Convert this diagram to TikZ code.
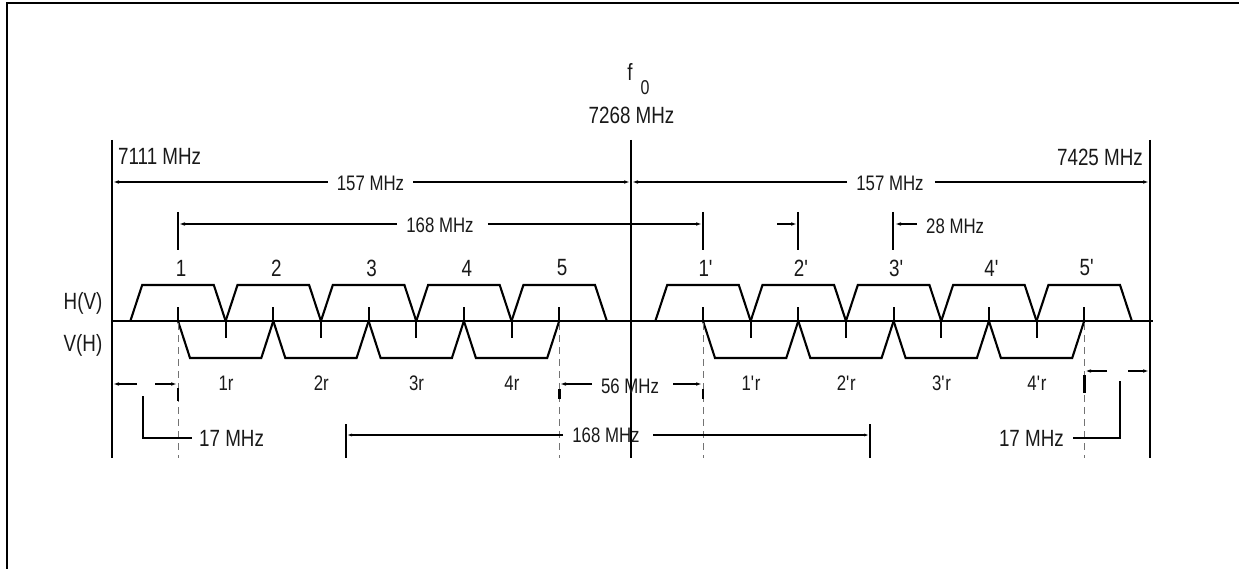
\documentclass[tikz,border=0pt]{standalone}
\usepackage{fontspec}
\setmainfont{Liberation Sans}[FakeStretch=0.8]
\usetikzlibrary{arrows.meta}
\begin{document}
\begin{tikzpicture}[x=1pt,y=-1pt,
  lbl/.style={inner sep=0pt,font=\fontsize{23.5}{25}\selectfont,text=black!90},
  dlbl/.style={inner sep=0pt,font=\fontsize{21}{23}\selectfont,text=black!90},
  dim/.style={line width=2.8pt,-{Latex[length=7pt,width=3.5pt]}},
  thin dim/.style={line width=2.2pt,-{Latex[length=6pt,width=3pt]}},
  bar/.style={line width=2.5pt},
  trap/.style={line width=2.1pt,line join=miter},
  guide/.style={line width=0.9pt,black!55,dash pattern=on 7pt off 5pt},
  thickmark/.style={line width=2.8pt},
  ]
\useasboundingbox (0,0) rectangle (1239,569);
% frame (only top and left visible)
\coordinate (FL) at (7,569); \coordinate (FC) at (7,3); \coordinate (FR) at (1239,3);
\draw[line width=2pt] (FL) -- (FC) -- (FR);

% main verticals
\coordinate (Ltop) at (112,140); \coordinate (Lbot) at (112,458);
\coordinate (Ctop) at (631,140); \coordinate (Cbot) at (631,458);
\coordinate (Rtop) at (1150,140); \coordinate (Rbot) at (1150,458);
\draw[bar] (Ltop) -- (Lbot);
\draw[bar] (Ctop) -- (Cbot);
\draw[bar] (Rtop) -- (Rbot);

% axis
\coordinate (A0) at (112,321); \coordinate (A1) at (1153,321);
\draw[bar] (A0) -- (A1);

% top labels
\node[lbl] (f) at (630,72) {f};
\node[lbl,font=\fontsize{20}{21}\selectfont] (f0) at (645,88) {0};
\node[lbl] (f0freq) at (631.5,115) {7268 MHz};
\node[lbl,anchor=west] (lowf) at (118,156) {7111 MHz};
\node[lbl,anchor=east] (highf) at (1143,157) {7425 MHz};

% 157 MHz dimensions
\node[dlbl] (d157l) at (370.5,183) {157 MHz};
\node[dlbl] (d157r) at (890,183) {157 MHz};
\coordinate (l157a) at (112,182); \coordinate (l157b) at (631,182); \coordinate (l157c) at (1150,182);
\draw[dim] (d157l.west) ++(-9,-1) -- (l157a);
\draw[dim] (d157l.east) ++(9,-1) -- (l157b);
\draw[dim] (d157r.west) ++(-9,-1) -- (l157b);
\draw[dim] (d157r.east) ++(11,-1) -- (l157c);

% 168 MHz top
\coordinate (t1a) at (178,212); \coordinate (t1b) at (178,250);
\coordinate (t2a) at (703,212); \coordinate (t2b) at (703,250);
\draw[bar] (t1a) -- (t1b);
\draw[bar] (t2a) -- (t2b);
\node[dlbl] (d168t) at (440,225) {168 MHz};
\coordinate (h168a) at (178,224); \coordinate (h168b) at (703,224);
\draw[dim] (d168t.west) ++(-9,-1) -- (h168a);
\draw[dim] (d168t.east) ++(14,-1) -- (h168b);

% 28 MHz
\coordinate (t3a) at (798,212); \coordinate (t3b) at (798,250);
\coordinate (t4a) at (893,212); \coordinate (t4b) at (893,250);
\draw[bar] (t3a) -- (t3b);
\draw[bar] (t4a) -- (t4b);
\coordinate (s28a) at (777,224); \coordinate (s28b) at (798,224);
\coordinate (s28c) at (917,224); \coordinate (s28d) at (894,224);
\draw[dim] (s28a) -- (s28b);
\draw[dim] (s28c) -- (s28d);
\node[dlbl,anchor=west] (d28) at (926,226) {28 MHz};

% H(V) / V(H)
\node[lbl] (hv) at (83,303) {H(V)};
\node[lbl] (vh) at (83,345) {V(H)};

% channels, left half and right half
\foreach \base/\pr in {178/0,703/1}{
  \foreach \i [count=\n] in {0,...,4}{
    \pgfmathsetmacro\c{\base+95.3*\i}
    \draw[trap] ({\c-47.65},321) -- ({\c-35.8},285) -- ({\c+35.8},285) -- ({\c+47.65},321);
    \draw[trap] (\c,307) -- (\c,322);
    \ifnum\pr=0
      \node[lbl] (ch\pr\n) at ({\c+3},268) {\n};
    \else
      \node[lbl] (ch\pr\n) at ({\c+3},268) {\n\textquotesingle};
    \fi
  }
  \foreach \i [count=\n] in {0,...,3}{
    \pgfmathsetmacro\c{\base+95.3*\i}
    \draw[trap] (\c,321) -- ({\c+12},358) -- ({\c+95.3-12},358) -- ({\c+95.3},321);
    \draw[trap] ({\c+47.65},321) -- ({\c+47.65},338);
    \ifnum\pr=0
      \node[dlbl] (chr\pr\n) at ({\c+48},383) {\n r};
    \else
      \node[dlbl] (chr\pr\n) at ({\c+48},383) {\n\textquotesingle r};
    \fi
  }
}

% dashed guides
\foreach \x/\nm in {178/ga,559.2/gb,703/gc,1084.2/gd}{
  \coordinate (\nm1) at (\x,323); \coordinate (\nm2) at (\x,458);
  \draw[guide] (\nm1) -- (\nm2);
}

% left 17 MHz
\coordinate (la) at (137,384); \coordinate (lb) at (112,384);
\coordinate (lc) at (155,384); \coordinate (ld) at (178,384);
\draw[dim] (la) -- (lb);
\draw[dim] (lc) -- (ld);
\draw[thickmark] (178,388) -- (178,401);
\coordinate (le1) at (143,396); \coordinate (le2) at (143,438); \coordinate (le3) at (192,438);
\draw[line width=2.2pt] (le1) -- (le2) -- (le3);
\node[lbl,anchor=west] (d17l) at (199,438) {17 MHz};

% 56 MHz
\coordinate (m1) at (592,384); \coordinate (m2) at (559,384);
\coordinate (m3) at (673,384); \coordinate (m4) at (703,384);
\draw[dim] (m1) -- (m2);
\draw[dim] (m3) -- (m4);
\draw[thickmark] (559.2,389) -- (559.2,399);
\draw[thickmark] (703,389) -- (703,399);
\node[dlbl] (d56) at (630,386) {56 MHz};

% bottom 168 MHz
\coordinate (b1a) at (346,424); \coordinate (b1b) at (346,458);
\coordinate (b2a) at (870,424); \coordinate (b2b) at (870,458);
\draw[bar] (b1a) -- (b1b);
\draw[bar] (b2a) -- (b2b);
\node[dlbl] (d168b) at (606,435) {168 MHz};
\coordinate (bl) at (346,435); \coordinate (br) at (870,435);
\draw[thin dim] (563,435) -- (bl);
\draw[thin dim] (653,435) -- (br);

% right 17 MHz
\coordinate (ra) at (1107,371); \coordinate (rb) at (1084.2,371);
\coordinate (rc) at (1128,371); \coordinate (rd) at (1150,371);
\draw[dim] (ra) -- (rb);
\draw[dim] (rc) -- (rd);
\draw[thickmark] (1084.2,375) -- (1084.2,393);
\coordinate (re1) at (1120,381); \coordinate (re2) at (1120,438); \coordinate (re3) at (1073,438);
\draw[line width=2.2pt] (re1) -- (re2) -- (re3);
\node[lbl,anchor=east] (d17r) at (1064,438) {17 MHz};
\end{tikzpicture}
\end{document}
